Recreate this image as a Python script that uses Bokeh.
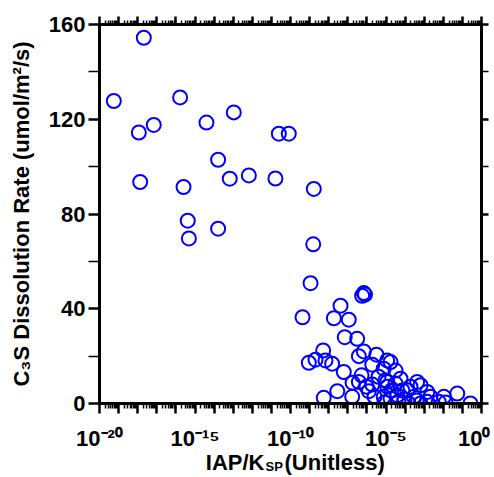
import math
from bokeh.plotting import figure
from bokeh.layouts import column
from bokeh.models import (Range1d, LinearAxis, LogAxis, FixedTicker,
                          CustomJSTickFormatter, Label)
from bokeh.embed import file_html
from bokeh.resources import INLINE

# ---- data ----
log_iap = [
    -19.25, -17.68, -17.94, -17.16, -17.87, -15.78, -15.60, -15.38, -15.32, -14.40,
    -13.79, -13.79, -13.18, -12.97, -12.18, -10.79, -10.61, -10.09, -8.78, -8.81,
    -8.95, -9.37, -6.16, -6.25, -6.10, -7.38, -7.73, -6.95, -7.16, -6.51,
    -8.29, -6.16, -5.50, -9.04, -8.69, -8.17, -7.82, -6.42, -5.72, -4.94,
    -7.21, -5.12, -6.28, -6.42, -5.72, -5.03, -7.55, -8.26, -6.77, -5.12,
    -4.94, -5.90, -4.76, -4.24, -4.94, -3.37, -3.19, -2.84, -3.89, -3.54,
    -4.41, -4.76, -1.97, -1.27, -0.58, -2.24, -2.84, -3.19, -3.81, -1.88,
    -4.50, -4.14, -3.72, -4.03, -4.35, -3.40, -2.67, -4.50, -5.39, -5.60,
    -5.08, -6.02, -6.75, -4.71]
rate = [
    127.7, 154.4, 114.4, 117.6, 93.5, 129.2, 91.4, 77.2, 69.7, 118.6,
    102.9, 73.8, 94.9, 122.9, 96.3, 95.0, 113.9, 113.9, 90.6, 67.2,
    50.8, 36.4, 46.6, 45.5, 46.0, 41.3, 36.0, 35.4, 28.0, 27.3,
    22.4, 22.0, 20.6, 17.2, 18.5, 18.2, 16.8, 20.0, 16.4, 18.2,
    13.3, 14.7, 11.9, 9.1, 8.0, 9.8, 5.2, 2.4, 2.8, 2.8,
    7.1, 5.2, 17.5, 10.5, 9.1, 9.1, 7.7, 4.9, 5.6, 2.8,
    3.5, 2.1, 2.8, 4.2, 0.0, 0.7, 0.7, 0.0, 0.0, 0.4,
    8.4, 5.5, 7.1, 1.7, 0.8, 1.3, 2.9, 13.9, 11.3, 2.9,
    0.4, 7.1, 8.8, 5.5]

x_decades = list(range(-20, 1))        # 1e-20 ... 1e0
x_label_step = 5                        # labels every 5 decades
y_major = [0, 40, 80, 120, 160]
y_minor = [20, 60, 100, 140]

x_title = ["IAP/K", "SP", "(Unitless)"]
y_title = "C\u2083S Dissolution Rate (umol/m\u00b2/s)"

iap = [10.0 ** e for e in log_iap]

FONT = "Liberation Sans"
BLUE = "#0000FF"

# ---- overall geometry (pixels) ----
W, H = 490, 477
MH = 453                # height of the main plot
FL, FR, FT, FB = 99, 481, 24, 405   # frame edges on the page

p = figure(width=W, height=MH, x_axis_type="log",
           x_range=Range1d(1e-20, 1.0), y_range=Range1d(0, 160),
           output_backend="svg", toolbar_location=None, title=None,
           frame_align=False,
           min_border_left=FL, min_border_right=W - FR,
           min_border_top=FT, min_border_bottom=MH - FB)
p.grid.visible = False
p.outline_line_color = None

x_major_vals = [float(f"1e{k}") for k in x_decades]
x_minor_vals = [m * float(f"1e{k}") for k in x_decades[:-1] for m in range(2, 10)]

fmt_code = """
const e = Math.round(Math.log10(tick));
if (e % %STEP% !== 0) return "";
const sup = {"-": "\\u207b", "0": "\\u2070", "1": "\\u00b9", "2": "\\u00b2",
             "3": "\\u00b3", "4": "\\u2074", "5": "\\u2075", "6": "\\u2076",
             "7": "\\u2077", "8": "\\u2078", "9": "\\u2079"};
return "10" + String(e).split("").map(c => sup[c]).join("");
""".replace("%STEP%", str(x_label_step))


def style_axis(ax, out_major, out_minor, labels=True):
    ax.axis_line_width = 3
    ax.axis_line_color = "black"
    ax.major_tick_line_width = 2.5
    ax.minor_tick_line_width = 1.5
    ax.major_tick_line_color = "black"
    ax.minor_tick_line_color = "black"
    ax.major_tick_in = 0
    ax.minor_tick_in = 0
    ax.major_tick_out = out_major
    ax.minor_tick_out = out_minor
    ax.major_label_text_font = FONT
    ax.major_label_text_font_style = "bold"
    ax.major_label_text_color = "black"
    if labels:
        ax.major_label_text_font_size = "22px"
    else:
        ax.major_label_text_font_size = "0px"
        ax.major_label_standoff = 0


# bottom log axis
xb = p.xaxis[0]
xb.ticker = FixedTicker(ticks=x_major_vals, minor_ticks=x_minor_vals)
xb.formatter = CustomJSTickFormatter(code=fmt_code)
style_axis(xb, 10, 5)
xb.major_label_standoff = 12

# top log axis
xt = LogAxis(ticker=FixedTicker(ticks=x_major_vals, minor_ticks=x_minor_vals),
             formatter=CustomJSTickFormatter(code='return "";'))
style_axis(xt, 8, 4, labels=False)
p.add_layout(xt, "above")

# left axis with its title
yl = p.yaxis[0]
yl.ticker = FixedTicker(ticks=y_major, minor_ticks=y_minor)
style_axis(yl, 11, 11)
yl.major_label_standoff = 3
yl.axis_label = y_title
yl.axis_label_text_font = FONT
yl.axis_label_text_font_size = "22px"
yl.axis_label_text_font_style = "bold"
yl.axis_label_text_color = "black"
yl.axis_label_standoff = 12

# right axis
yr = LinearAxis(ticker=FixedTicker(ticks=y_major, minor_ticks=y_minor),
                formatter=CustomJSTickFormatter(code='return "";'))
style_axis(yr, 7, 7, labels=False)
p.add_layout(yr, "right")

p.scatter(iap, rate, marker="circle", size=14, fill_color=None,
          line_color=BLUE, line_width=2)

# ---- strip holding the x title (data units = pixels) ----
BH = H - MH
bottom = figure(width=W, height=BH, x_range=Range1d(0, W), y_range=Range1d(0, BH),
                output_backend="svg", toolbar_location=None, title=None,
                frame_align=False,
                min_border=0, min_border_left=0, min_border_right=0,
                min_border_top=0, min_border_bottom=0,
                x_axis_location=None, y_axis_location=None)
bottom.grid.visible = False
bottom.outline_line_color = None


def add_text(f, text, x, y, size, align):
    f.add_layout(Label(x=x, y=y, text=text, text_font=FONT,
                       text_font_size=size, text_font_style="bold",
                       text_align=align, text_baseline="alphabetic",
                       text_color="black"))


# baselines measured from the strip's bottom edge
add_text(bottom, x_title[0], 264, 15, "22px", "right")
add_text(bottom, x_title[1], 265, 11, "13px", "left")
add_text(bottom, x_title[2], 284, 15, "22px", "left")

layout = column(p, bottom, spacing=0)

open("out.html", "w").write(file_html(layout, INLINE))
